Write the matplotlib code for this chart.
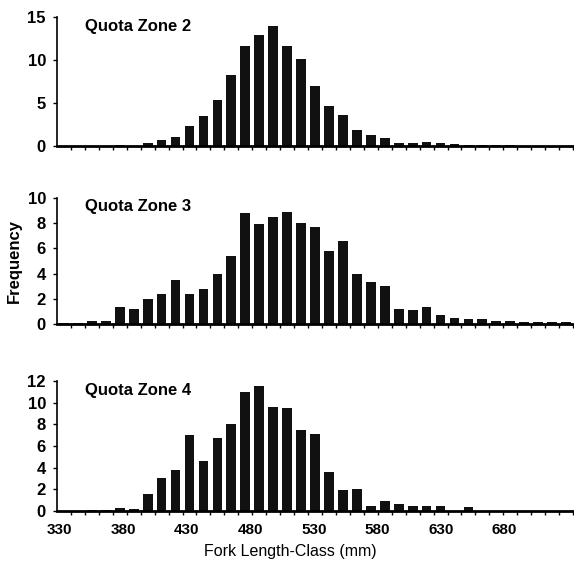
import numpy as np
import matplotlib
matplotlib.use('Agg')
import matplotlib.pyplot as plt

plt.rcParams['font.family'] = ['Liberation Sans', 'DejaVu Sans']

# fork length classes, 10 mm apart
length_class = np.arange(330, 700, 10)
tick_labels = ['330', '380', '430', '480', '530', '580', '630', '680']
zone_names = ['Quota Zone 2', 'Quota Zone 3', 'Quota Zone 4']

# frequency (%) per length class
zone2 = [0, 0, 0, 0.05, 0.1, 0.05, 0.4, 0.7, 1.0, 2.3, 3.5, 5.4, 8.2, 11.6, 12.9, 14.0,
         11.6, 10.1, 7.0, 4.7, 3.6, 1.9, 1.3, 0.9, 0.3, 0.35, 0.45, 0.3, 0.2, 0.1,
         0.15, 0.1, 0.1, 0.05, 0.05, 0.05, 0.05]
zone3 = [0.05, 0.1, 0.2, 0.25, 1.35, 1.2, 1.95, 2.4, 3.5, 2.35, 2.8, 4.0, 5.4, 8.8, 7.9,
         8.5, 8.9, 8.0, 7.7, 5.8, 6.6, 4.0, 3.3, 3.05, 1.2, 1.1, 1.35, 0.7, 0.5, 0.4,
         0.4, 0.25, 0.25, 0.15, 0.15, 0.15, 0.15]
zone4 = [0, 0, 0.05, 0.05, 0.3, 0.2, 1.6, 3.0, 3.8, 7.0, 4.6, 6.7, 8.0, 11.0, 11.5, 9.6,
         9.5, 7.5, 7.1, 3.6, 1.9, 2.0, 0.45, 0.9, 0.6, 0.45, 0.5, 0.5, 0, 0.35,
         0, 0, 0, 0, 0, 0, 0]
zones = [zone2, zone3, zone4]
y_max = [15, 10, 12]
y_step = [5, 2, 2]

# axes boxes in figure fraction [left, bottom, width, height]
boxes = [[0.0993, 0.7425, 0.899, 0.2275],
         [0.0993, 0.4286, 0.899, 0.2222],
         [0.0993, 0.0988, 0.899, 0.2293]]

fig = plt.figure(figsize=(5.74, 5.67), dpi=100)
x = np.arange(len(length_class))

for k in range(3):
    ax = fig.add_axes(boxes[k])
    ax.bar(x, zones[k], width=0.7, color='#111111')
    ax.set_xlim(-0.5, len(x) - 0.5)
    ax.set_ylim(0, y_max[k])
    ax.set_yticks(np.arange(0, y_max[k] + 1, y_step[k]))
    ax.spines['top'].set_visible(False)
    ax.spines['right'].set_visible(False)
    ax.spines['left'].set_linewidth(1.2)
    ax.spines['bottom'].set_linewidth(2)
    ax.tick_params(axis='y', direction='out', length=3, width=1, labelsize=12, pad=5)
    for t in ax.get_yticklabels():
        t.set_fontweight('bold')
    # small marks between classes
    ax.set_xticks(x + 0.5, minor=True)
    ax.tick_params(axis='x', which='minor', direction='out', length=3, width=1)
    if k < 2:
        ax.set_xticks([])
    else:
        # the printed labels sit a little closer together than every fifth class
        ax.set_xticks(np.linspace(-0.3, 31.6, len(tick_labels)))
        ax.set_xticklabels(tick_labels, fontsize=11, fontweight='bold')
        ax.tick_params(axis='x', which='major', length=0, pad=9)
    ax.text(0.055, 0.93, zone_names[k], transform=ax.transAxes, fontsize=12,
            fontweight='bold', va='center', ha='left')
    if k == 1:
        ax.set_ylabel('Frequency', fontsize=12, fontweight='bold', labelpad=4)

fig.text(0.505, 0.028, 'Fork Length-Class (mm)', fontsize=11.5, ha='center', va='center')

plt.savefig('out.png', dpi=100)
